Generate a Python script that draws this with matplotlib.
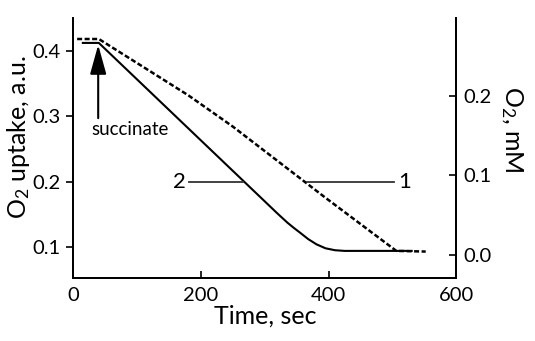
import matplotlib
matplotlib.use("Agg")
import matplotlib.pyplot as plt

plt.rcParams['font.family'] = ['Lato', 'DejaVu Sans']
plt.rcParams['mathtext.default'] = 'regular'

# curve 1 (dotted) and curve 2 (solid), left axis units
t1 = [6, 40, 180, 250, 394, 506, 552]
v1 = [0.418, 0.418, 0.332, 0.284, 0.176, 0.094, 0.093]
t2 = [15, 40, 320, 335, 345, 355, 368, 381, 395, 410, 425, 530]
v2 = [0.412, 0.412, 0.151, 0.1375, 0.1295, 0.122, 0.112, 0.104, 0.098, 0.095, 0.094, 0.094]

xticks = [0, 200, 400, 600]
lticks = [0.1, 0.2, 0.3, 0.4]
rticks = [0.0, 0.1, 0.2]

fig = plt.figure(figsize=(5.35, 3.41), dpi=100)
ax = fig.add_axes([0.137, 0.1856, 0.716, 0.7614])
ax2 = ax.twinx()

ax.plot(t1, v1, color='black', lw=1.8, dashes=(2, 1))
ax.plot(t2, v2, color='black', lw=1.5)

ax.set_xlim(0, 600)
ax.set_ylim(0.053, 0.450)
ax2.set_ylim(-0.0286, 0.298)
ax.set_xticks(xticks)
ax.set_yticks(lticks)
ax2.set_yticks(rticks)
ax.set_xticklabels([str(x) for x in xticks])
ax.set_yticklabels([f"{v:.1f}" for v in lticks])
ax2.set_yticklabels([f"{v:.1f}" for v in rticks])

for a in (ax, ax2):
    for s in a.spines.values():
        s.set_linewidth(1.3)
    a.spines['top'].set_visible(False)

ax.tick_params(axis='y', direction='out', length=5, width=1.2, labelsize=14.5, pad=4)
ax.tick_params(axis='x', direction='in', length=5, width=1.2, labelsize=14.5, pad=7)
ax2.tick_params(axis='y', direction='in', length=5, width=1.2, labelsize=14.5, pad=5)

ax.set_xlabel("Time, sec", fontsize=18, labelpad=0)
ax.set_ylabel("O$_2$ uptake, a.u.", fontsize=18, va='center')
ax.yaxis.set_label_coords(-0.142, 0.542)
ax2.set_ylabel("O$_2$, mM", fontsize=18, rotation=270, va='center')
ax2.yaxis.set_label_coords(1.145, 0.57)

# succinate arrow
ax.annotate("", xy=(39, 0.409), xytext=(39, 0.297),
            arrowprops=dict(arrowstyle='-|>,head_width=0.25,head_length=0.9',
                            mutation_scale=20, shrinkA=0, shrinkB=0,
                            color='black', lw=1.5))
ax.text(89, 0.279, "succinate", fontsize=13.5, ha='center', va='center')

# curve labels
ax.plot([182, 266], [0.2, 0.2], color='#333333', lw=1.3)
ax.text(167, 0.2, "2", fontsize=16, ha='center', va='center')
ax.plot([366, 503], [0.2, 0.2], color='#333333', lw=1.3)
ax.text(519, 0.2, "1", fontsize=16, ha='center', va='center')

fig.savefig("out.png", dpi=100)
